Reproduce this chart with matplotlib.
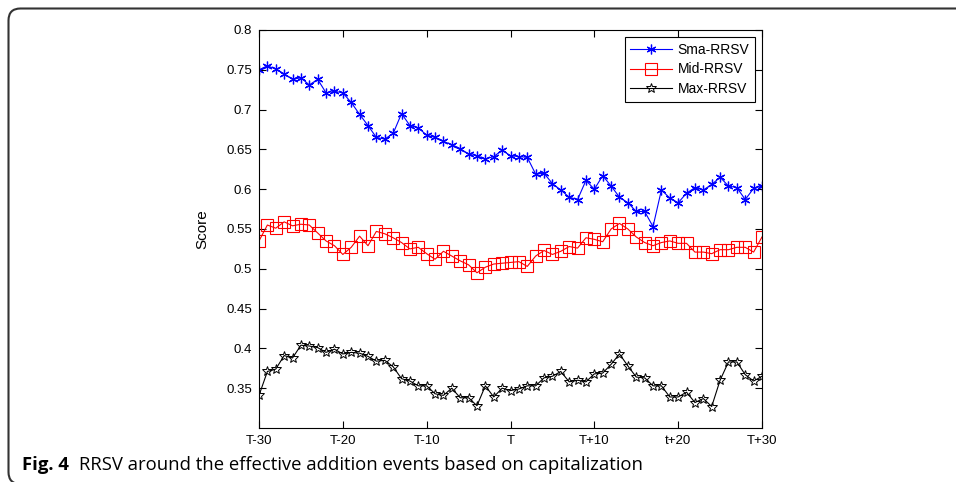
import matplotlib
matplotlib.use("Agg")
import matplotlib.pyplot as plt
from matplotlib.path import Path
from matplotlib.patches import PathPatch
import numpy as np

days = list(range(-30, 31))
sma = [0.750,0.755,0.751,0.745,0.738,0.740,0.731,0.738,0.721,0.723,
       0.721,0.709,0.694,0.680,0.665,0.663,0.670,0.695,0.680,0.677,
       0.668,0.665,0.660,0.656,0.651,0.644,0.642,0.638,0.641,0.649,
       0.642,0.641,0.640,0.619,0.620,0.607,0.599,0.590,0.587,0.611,
       0.600,0.617,0.604,0.590,0.583,0.572,0.572,0.553,0.599,0.589,
       0.583,0.595,0.602,0.599,0.606,0.615,0.604,0.602,0.587,0.601,0.604]
mid = [0.535,0.555,0.551,0.559,0.554,0.556,0.555,0.545,0.535,0.529,
       0.518,0.527,0.541,0.529,0.547,0.544,0.539,0.533,0.525,0.527,
       0.519,0.512,0.522,0.516,0.510,0.505,0.495,0.502,0.506,0.507,
       0.508,0.509,0.503,0.516,0.523,0.518,0.522,0.528,0.526,0.539,
       0.537,0.534,0.550,0.557,0.550,0.540,0.533,0.529,0.533,0.535,
       0.532,0.532,0.521,0.521,0.519,0.524,0.524,0.527,0.527,0.521,0.540]
mx = [0.341,0.371,0.374,0.391,0.388,0.404,0.403,0.401,0.395,0.399,
      0.393,0.395,0.394,0.390,0.384,0.385,0.377,0.362,0.359,0.353,
      0.353,0.343,0.341,0.350,0.338,0.338,0.328,0.353,0.339,0.350,
      0.347,0.349,0.353,0.353,0.363,0.365,0.371,0.358,0.360,0.358,
      0.368,0.369,0.380,0.393,0.378,0.364,0.363,0.353,0.353,0.339,
      0.339,0.345,0.332,0.337,0.327,0.360,0.383,0.383,0.367,0.359,0.365]
series_names = ["Sma-RRSV", "Mid-RRSV", "Max-RRSV"]
xtick_pos = [-30, -20, -10, 0, 10, 20, 30]
xtick_labels = ["T-30", "T-20", "T-10", "T", "T+10", "t+20", "T+30"]
ytick_vals = [0.35, 0.4, 0.45, 0.5, 0.55, 0.6, 0.65, 0.7, 0.75, 0.8]
ytick_labels = ["0.35", "0.4", "0.45", "0.5", "0.55", "0.6", "0.65", "0.7", "0.75", "0.8"]
caption_bold = "Fig. 4"
caption_text = "RRSV around the effective addition events based on capitalization"

W, H = 956, 482
fig = plt.figure(figsize=(W/100, H/100), dpi=100)
fig.patch.set_facecolor("white")

ax = fig.add_axes([259/W, 1-428/H, (762-259)/W, (428-30)/H])
ax.plot(days, sma, color=(0, 0, 1), lw=0.8, marker=(6, 2, 0), ms=7, mew=0.9,
        label=series_names[0])
ax.plot(days, mid, color=(1, 0, 0), lw=0.8, marker="s", ms=8, mfc="none", mew=0.8,
        label=series_names[1])
ax.plot(days, mx, color="black", lw=0.8, marker="*", ms=7, mfc="none", mew=0.7,
        label=series_names[2])

ax.set_xlim(-30, 30)
ax.set_ylim(0.3, 0.8)
ax.set_xticks(xtick_pos)
ax.set_xticklabels(xtick_labels, fontsize=9.5, family="Liberation Sans")
ax.set_yticks(ytick_vals)
ax.set_yticklabels(ytick_labels, fontsize=9.5, family="Liberation Sans")
ax.tick_params(direction="in", top=True, right=True, length=5, width=0.8, pad=5)
for s in ax.spines.values():
    s.set_linewidth(0.8)
ax.set_ylabel("Score", fontsize=11, family="Liberation Sans", labelpad=12)

leg = ax.legend(loc="upper right", bbox_to_anchor=(1 - 7/503, 1 - 7/398),
                borderaxespad=0, fancybox=False, edgecolor="black",
                prop={"family": "Liberation Sans", "size": 10},
                handlelength=3.0, handletextpad=0.4, labelspacing=0.42,
                borderpad=0.4, framealpha=1)
leg.get_frame().set_linewidth(0.8)

# caption
t1 = fig.text(22/W, 1-465/H, caption_bold, fontsize=13.3, fontweight="bold",
              family="Open Sans", va="center", ha="left")
fig.canvas.draw()
bb = t1.get_window_extent()
fig.text((bb.x1 + 10)/W, 1-465/H, caption_text, fontsize=13.3,
         family="Open Sans", va="center", ha="left")

# rounded frame (top and left sides)
r = 12
x0, y0 = 8.5, 8.5
verts = [(W+5, y0), (x0+r, y0), (x0, y0), (x0, y0+r), (x0, H-r+2), (x0, H+2), (x0+r, H+2)]
codes = [Path.MOVETO, Path.LINETO, Path.CURVE3, Path.CURVE3, Path.LINETO, Path.CURVE3, Path.CURVE3]
verts_fig = [(vx/W, 1-vy/H) for vx, vy in verts]
patch = PathPatch(Path(verts_fig, codes), transform=fig.transFigure,
                  facecolor="none", edgecolor="#333333", lw=1.5, clip_on=False)
fig.add_artist(patch)

fig.savefig("out.png", dpi=100)
